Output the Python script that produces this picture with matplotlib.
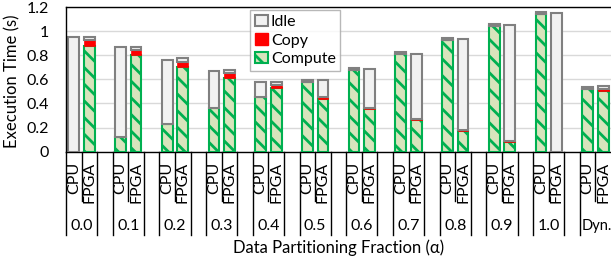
import matplotlib
matplotlib.use("Agg")
import matplotlib.pyplot as plt
from matplotlib.patches import Patch
import numpy as np

plt.rcParams['font.family'] = ['Lato', 'DejaVu Sans']
plt.rcParams['hatch.linewidth'] = 2.0

groups = ["0.0", "0.1", "0.2", "0.3", "0.4", "0.5", "0.6", "0.7", "0.8", "0.9", "1.0", "Dyn."]
devices = ["CPU", "FPGA"]

cpu_compute = [0.00, 0.12, 0.23, 0.36, 0.45, 0.58, 0.68, 0.81, 0.93, 1.04, 1.14, 0.52]
cpu_copy    = [0.00, 0.00, 0.00, 0.00, 0.00, 0.00, 0.00, 0.00, 0.00, 0.00, 0.00, 0.00]
cpu_idle    = [0.95, 0.745, 0.535, 0.31, 0.125, 0.015, 0.017, 0.017, 0.016, 0.018, 0.017, 0.02]

fpga_compute = [0.88, 0.80, 0.705, 0.614, 0.531, 0.44, 0.357, 0.263, 0.169, 0.083, 0.00, 0.506]
fpga_copy    = [0.05, 0.045, 0.039, 0.036, 0.02, 0.014, 0.009, 0.011, 0.009, 0.006, 0.00, 0.012]
fpga_idle    = [0.025, 0.021, 0.031, 0.028, 0.025, 0.141, 0.318, 0.537, 0.757, 0.96, 1.154, 0.025]

c_compute_fill = "#d8e4bc"
c_compute_edge = "#00b050"
c_copy = "#ff0000"
c_idle_fill = "#f2f2f2"
c_idle_edge = "#808080"

fig = plt.figure(figsize=(6.11, 2.64), dpi=100)
ax = fig.add_axes([66/611, 1-151.7/264, 545/611, 144.6/264])

ng = len(groups)
pos_cpu = np.arange(ng) * 3
pos_fpga = pos_cpu + 1
w = 0.68
lw = 1.5
fs = 11.5

def draw(pos, comp, copy, idle):
    comp = np.array(comp); copy = np.array(copy); idle = np.array(idle)
    m = comp > 0
    ax.bar(pos[m], comp[m], w, color=c_compute_fill, edgecolor=c_compute_edge,
           linewidth=lw, hatch='\\\\', zorder=3)
    m = copy > 0
    ax.bar(pos[m], copy[m], w, bottom=comp[m], color=c_copy, edgecolor=c_copy,
           linewidth=0.5, zorder=3)
    m = idle > 0
    ax.bar(pos[m], idle[m], w, bottom=(comp + copy)[m], color=c_idle_fill,
           edgecolor=c_idle_edge, linewidth=lw, zorder=3)

draw(pos_cpu, cpu_compute, cpu_copy, cpu_idle)
draw(pos_fpga, fpga_compute, fpga_copy, fpga_idle)

ax.set_xlim(-0.5, 3 * ng - 1.5)
ax.set_ylim(0, 1.2)
ax.set_yticks([0, 0.2, 0.4, 0.6, 0.8, 1.0, 1.2])
ax.set_yticklabels(["0", "0.2", "0.4", "0.6", "0.8", "1", "1.2"], fontsize=fs)
ax.tick_params(axis='y', length=0, pad=12)
ax.set_xticks([])
ax.grid(axis='y', color='#d9d9d9', linewidth=1, zorder=0)
ax.set_axisbelow(True)
ax.spines['right'].set_visible(False)
for s in ['left', 'top', 'bottom']:
    ax.spines[s].set_color('black')
    ax.spines[s].set_linewidth(1)
ax.spines['left'].set_zorder(5)

tr = ax.get_xaxis_transform()
short_y = (151.7 - 201) / 144.6
long_y = (151.7 - 235) / 144.6
for g in range(ng):
    base = 3 * g
    ax.plot([base - 0.5, base - 0.5], [0, long_y], transform=tr, color='black', lw=1, clip_on=False)
    ax.plot([base + 0.5, base + 0.5], [0, short_y], transform=tr, color='black', lw=1, clip_on=False)
    if g < ng - 1:
        ax.plot([base + 1.5, base + 1.5], [0, long_y], transform=tr, color='black', lw=1, clip_on=False)
    for i, d in enumerate(devices):
        ax.text(base + i, (151.7 - 162) / 144.6, d, transform=tr, rotation=90,
                ha='center', va='top', fontsize=fs)
    if groups[g] == "Dyn.":
        ax.text(base - 0.4, (151.7 - 226) / 144.6, groups[g], transform=tr,
                ha='left', va='center', fontsize=10.5)
    else:
        ax.text(base + 0.5, (151.7 - 226) / 144.6, groups[g], transform=tr,
                ha='center', va='center', fontsize=fs)

fig.text(12.6 / 611, 1 - 81.5 / 264, "Execution Time (s)", rotation=90,
         ha='center', va='center', fontsize=12)
fig.text(338.7 / 611, 1 - 248 / 264, "Data Partitioning Fraction (α)", ha='center',
         va='center', fontsize=12)

handles = [
    Patch(facecolor=c_idle_fill, edgecolor=c_idle_edge, linewidth=lw, label="Idle"),
    Patch(facecolor=c_copy, edgecolor=c_copy, label="Copy"),
    Patch(facecolor=c_compute_fill, edgecolor=c_compute_edge, linewidth=lw,
          hatch='\\', label="Compute"),
]
leg = fig.legend(handles=handles, loc='upper left', bbox_to_anchor=(250 / 611, 1 - 10 / 264),
                 fontsize=fs, frameon=True, fancybox=False, handlelength=0.8,
                 handleheight=0.75, handletextpad=0.2, labelspacing=0.25,
                 borderpad=0.3, borderaxespad=0)
leg.get_frame().set_edgecolor('#a6a6a6')
leg.get_frame().set_linewidth(1)

fig.savefig("out.png", dpi=100)
